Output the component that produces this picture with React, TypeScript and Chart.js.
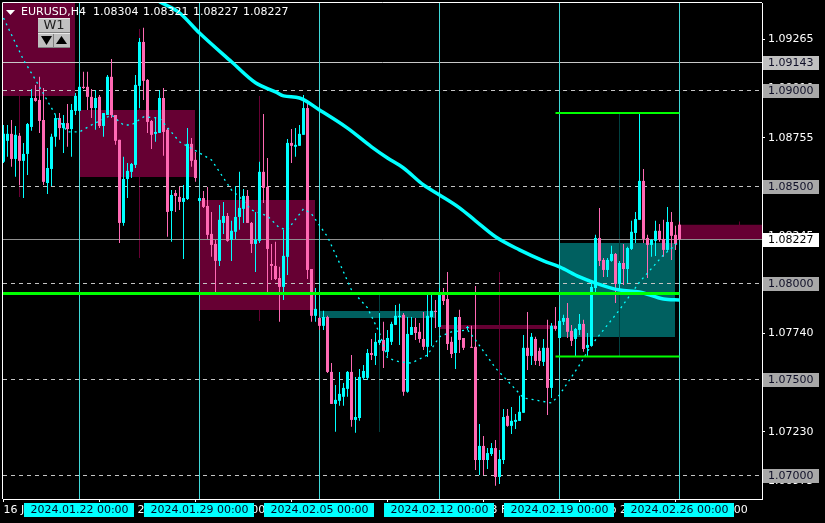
import { useEffect, useRef } from "react";
import { Chart, registerables } from "chart.js";

Chart.register(...registerables);

// Prices are kept in points (1 point = 0.00001)
const opens = [108630,108739,108775,108645,108765,108635,108671,108811,108961,108951,108847,108520,108593,108760,108857,108805,108831,108800,108894,108894,109019,109019,108967,108909,108967,108816,108873,109071,108873,108744,108313,108541,108578,108614,109024,109252,109055,108842,108775,108780,108961,108796,108375,108468,108448,108422,108437,108723,108640,108427,108442,108401,108256,108204,108116,108313,108349,108225,108267,108344,108386,108453,108313,108204,108220,108578,108500,108100,108090,108027,107981,108137,108728,108708,108713,108770,108909,108074,107831,107820,107779,107825,107540,107374,107390,107411,107452,107540,107291,107301,107509,107509,107638,107623,107691,107706,107644,107696,107784,107825,107836,107437,107732,107773,107748,107711,107670,107825,107857,107773,107939,107918,107696,107638,107825,107716,107768,107670,107670,107083,107156,107083,107114,107145,106995,107083,107312,107260,107281,107286,107328,107665,107623,107711,107649,107592,107665,107457,107779,107716,107800,107820,107753,107711,107758,107789,107665,107675,107975,108235,108121,108069,108116,108152,107996,108105,108074,108178,108261,108329,108531,108235,108199,108220,108272,108230,108173,108318,108251,108304];
const highs = [108821,108821,108847,108816,108780,108728,108831,109008,109029,109071,109013,108702,108775,108873,108883,108873,108930,108930,108987,109097,109097,109097,109008,109003,108977,108883,109081,109164,108873,108744,108656,108624,108624,109081,109273,109325,109060,108847,108863,109003,109013,108805,108484,108484,108500,108510,108805,108754,108681,108458,108479,108500,108370,108225,108406,108422,108364,108324,108505,108578,108489,108484,108318,108370,108630,108878,108650,108204,108215,108085,108277,108749,108800,108805,108821,108977,108951,108074,107975,107825,107857,107831,107586,107472,107540,107482,107545,107628,107514,107555,107576,107659,107711,107742,107846,107800,107758,107800,107887,107893,107846,107825,107825,107820,107794,107851,107939,107939,107913,107975,107975,108059,107722,107825,107862,107716,107778,107779,107986,107270,107208,107145,107171,107187,107135,107348,107348,107358,107322,107416,107732,107851,107742,107722,107665,107711,107810,107794,107877,107877,107836,107898,107784,107768,107841,107810,107742,108006,108251,108391,108131,108131,108194,108157,108116,108204,108189,108324,108370,108883,108593,108251,108230,108324,108308,108329,108396,108370,108298,108321];
const lows = [108624,108656,108604,108552,108510,108442,108562,108791,108941,108780,108510,108463,108505,108708,108744,108676,108708,108656,108873,108889,109008,108899,108857,108796,108805,108760,108873,108857,108718,108209,108298,108442,108546,108598,108909,108951,108780,108697,108734,108780,108661,108241,108215,108370,108380,108126,108432,108604,108526,108417,108391,108230,108137,107955,108090,108256,108215,108116,108230,108277,108313,108313,108157,108059,108209,108416,107955,108017,108017,107800,107913,108043,108624,108656,108713,108770,108022,107800,107800,107758,107758,107535,107374,107229,107364,107364,107411,107255,107224,107286,107498,107498,107602,107576,107680,107560,107623,107680,107784,107680,107416,107432,107732,107706,107691,107654,107618,107675,107768,107773,107887,107654,107612,107555,107638,107654,107758,107665,107031,107005,107005,107036,107104,106949,106959,107062,107255,107218,107244,107286,107328,107550,107576,107576,107571,107571,107317,107405,107753,107716,107784,107716,107675,107623,107732,107644,107618,107670,107939,108090,108033,108033,108111,107898,107965,107991,108001,108173,108209,108329,108209,108027,108137,108142,108215,108137,108168,108121,108173,108227];
const closes = [108775,108775,108645,108770,108635,108671,108826,108961,108946,108842,108526,108598,108760,108857,108805,108831,108800,108899,108972,109019,109013,108967,108909,108961,108816,108883,109071,108873,108739,108313,108541,108583,108619,109029,109252,109050,108837,108770,108785,108961,108785,108370,108458,108453,108422,108442,108723,108635,108546,108442,108396,108251,108199,108116,108329,108349,108220,108272,108344,108391,108453,108313,108204,108225,108578,108495,108178,108090,108022,107981,108142,108728,108713,108718,108775,108909,108069,107831,107867,107779,107825,107540,107374,107395,107426,107457,107540,107291,107306,107514,107545,107638,107628,107696,107706,107649,107716,107789,107831,107831,107437,107737,107773,107742,107711,107670,107831,107857,107851,107944,107908,107685,107633,107825,107706,107665,107768,107665,107083,107156,107083,107119,107145,106995,107088,107306,107260,107286,107291,107333,107665,107623,107722,107597,107597,107665,107457,107779,107763,107805,107820,107748,107701,107763,107789,107659,107680,107981,108235,108116,108069,108121,108152,107996,108105,108074,108183,108267,108333,108531,108230,108199,108225,108272,108225,108173,108318,108246,108204,108227];

// Weekly candles overlaid behind the H4 bars
const weekBodyAt = [3.375, 33.375, 63.375, 93.375, 123.375, 153.375, 183.375];
const weekWickAt = [4, 34, 64, 94, 124, 154, 184];
const weekOpen = [109625, 108899, 108432, 107820, 107783, 107721, 108304];
const weekClose = [108971, 108551, 107861, 107856, 107763, 108209, 108227];
const weekHigh = [109700, 109319, 108971, 107939, 108058, 108883, 108321];
const weekLow = [108447, 108131, 107804, 107228, 106969, 107623, 108227];

// Moving averages: bar index and value
const slowMaAt = [39,44,49,57,63,68,70,74,79,86,92,96,100,105,109,114,118,123,129,135,139,144,148,154,159,165,169];
const slowMa = [109460,109403,109298,109149,109040,108993,108972,108961,108899,108805,108708,108650,108598,108510,108458,108391,108324,108241,108173,108116,108085,108033,108001,107965,107955,107918,107913];
const fastMaAt = [0,5,8,13,16,19,22,27,30,32,35,39,44,49,52,57,59,62,66,69,71,75,77,81,84,87,91,94,96,99,102,106,109,112,116,118,123,127,130,137,139,144,147,149,154,159,165,168,169];
const fastMa = [109376,109159,109055,108873,108785,108785,108821,108873,108821,108821,108863,108857,108734,108676,108640,108484,108448,108380,108349,108287,108277,108386,108360,108241,108105,107965,107872,107742,107612,107592,107586,107628,107722,107748,107758,107706,107560,107472,107405,107379,107421,107576,107680,107732,107862,108006,108147,108199,108220];

const weekStarts = [19, 49, 79, 109, 139, 169];
const weekStartLabels = ["2024.01.22 00:00","2024.01.29 00:00","2024.02.05 00:00","2024.02.12 00:00","2024.02.19 00:00","2024.02.26 00:00"];

const axisTickAt = [0, 24, 48, 72, 96, 120, 144, 168];
const axisTickLabels = ["16 Jan 20:00","22 Jan 20:00","26 Jan 20:00","1 Feb 20:00","7 Feb 20:00","13 Feb 20:00","19 Feb 20:00","23 Feb 20:00"];
const priceTicks = [1.09265,1.0901,1.08755,1.085,1.08245,1.0799,1.0774,1.07485,1.0723,1.06975];

const dashedLevels = [1.09, 1.085, 1.08, 1.075, 1.07];
const solidLevels = [1.09143, 1.08227];
const levelTagText = ["1.09143","1.09000","1.08500","1.08227","1.08000","1.07500","1.07000"];
const titleSymbol = "EURUSD,H4";
const titleOhlc = ["1.08304","1.08321","1.08227","1.08227"];

const keyLevel = 1.07947;
const rangeHigh = 1.08883;
const rangeLow = 1.0762;

const X_MIN = -0.125;
const X_MAX = 189.625;
const Y_MIN = 1.0688067;
const Y_MAX = 1.0945396;
const FONT = "11px 'DejaVu Sans'";
const BULL = "#00FFFF";
const BEAR = "#FF69B4";
const WEEK_BEAR = "#660033";
const WEEK_BULL = "#006060";
const LIME = "#00FF00";
const SEP = "#40D8D8";

const p = (v: number) => v / 100000;

const overlay = {
  id: "overlay",
  afterDatasetDraw(chart: any, args: any) {
    if (chart.data.datasets[args.index].label !== "weekWicks") return;
    const { ctx, chartArea: a, scales } = chart;
    ctx.save();
    ctx.lineWidth = 1;
    const y = (v: number) => Math.floor(scales.y.getPixelForValue(v)) + 0.5;
    ctx.strokeStyle = "#C4C4C4";
    ctx.setLineDash([4, 4]);
    for (const v of dashedLevels) {
      ctx.beginPath();
      ctx.moveTo(a.left, y(v));
      ctx.lineTo(a.right, y(v));
      ctx.stroke();
    }
    ctx.setLineDash([]);
    solidLevels.forEach((v, i) => {
      ctx.strokeStyle = i === 0 ? "#C8C8C8" : "#909090";
      ctx.beginPath();
      ctx.moveTo(a.left, y(v));
      ctx.lineTo(a.right, y(v));
      ctx.stroke();
    });
    ctx.restore();
  },
  afterDraw(chart: any) {
    const { ctx, chartArea: a, scales } = chart;
    ctx.save();
    // frame
    ctx.strokeStyle = "#FFFFFF";
    ctx.lineWidth = 1;
    ctx.beginPath();
    ctx.moveTo(a.left - 0.5, a.bottom);
    ctx.lineTo(a.left - 0.5, a.top - 0.5);
    ctx.lineTo(a.right, a.top - 0.5);
    ctx.stroke();

    ctx.font = FONT;
    ctx.textBaseline = "middle";

    // price tags
    levelTagText.forEach((t) => {
      const v = parseFloat(t);
      const cy = Math.floor(scales.y.getPixelForValue(v));
      const isLast = t === "1.08227";
      ctx.fillStyle = isLast ? "#FFFFFF" : t === "1.09143" ? "#C0C0C0" : "#A8A8A8";
      ctx.fillRect(763, cy - 6, 56, 14);
      ctx.fillStyle = isLast ? "#000000" : "#101028";
      ctx.textAlign = "left";
      ctx.fillText(t, 768, cy + 1);
    });

    // week start tags
    weekStarts.forEach((i, k) => {
      const cx = scales.x.getPixelForValue(i);
      ctx.fillStyle = BULL;
      ctx.fillRect(cx - 55.5, 503, 110, 14);
      ctx.fillStyle = "#000020";
      ctx.textAlign = "center";
      ctx.fillText(weekStartLabels[k], cx, 510.5);
    });

    // title
    ctx.textAlign = "left";
    ctx.fillStyle = "#FFFFFF";
    ctx.beginPath();
    ctx.moveTo(6, 10);
    ctx.lineTo(15, 10);
    ctx.lineTo(10.5, 15);
    ctx.closePath();
    ctx.fill();
    ctx.fillText(titleSymbol, 21, 12.5);
    titleOhlc.forEach((t, i) => ctx.fillText(t, 93 + 50 * i, 12.5));

    // W1 buttons
    ctx.fillStyle = "#C0C0C0";
    ctx.fillRect(38, 18, 32, 30);
    ctx.fillStyle = "#E8E8E8";
    ctx.fillRect(38, 18, 32, 1);
    ctx.fillRect(38, 33, 32, 1);
    ctx.fillStyle = "#808080";
    ctx.fillRect(38, 32, 32, 1);
    ctx.fillRect(53, 34, 1, 14);
    ctx.fillRect(38, 47, 32, 1);
    ctx.fillStyle = "#202020";
    ctx.font = "13px 'DejaVu Sans'";
    ctx.textAlign = "center";
    ctx.fillText("W1", 54, 25.5);
    ctx.fillStyle = "#000000";
    ctx.beginPath();
    ctx.moveTo(41, 36);
    ctx.lineTo(52, 36);
    ctx.lineTo(46.5, 45);
    ctx.closePath();
    ctx.moveTo(56, 44);
    ctx.lineTo(67, 44);
    ctx.lineTo(61.5, 36);
    ctx.closePath();
    ctx.fill();
    ctx.restore();
  },
};

export default function App() {
  const ref = useRef<HTMLCanvasElement>(null);
  useEffect(() => {
    const idx = opens.map((_, i) => i);
    const dir = (i: number) => (closes[i] >= opens[i] ? BULL : BEAR);
    const barBase = { type: "bar", grouped: false, borderWidth: 0, inflateAmount: 0 };
    const lineBase = { type: "line", pointRadius: 0, tension: 0, fill: false };
    const hline = (v: number, from: number, to: number) => [{ x: from, y: v }, { x: to, y: v }];
    const chart = new Chart(ref.current as HTMLCanvasElement, {
      type: "bar",
      data: {
        datasets: [
          {
            ...barBase, label: "weekBodies", order: 100, barThickness: 116, minBarLength: 1,
            data: weekBodyAt.map((x, i) => ({ x, y: [p(weekOpen[i]), p(weekClose[i])] })),
            backgroundColor: weekBodyAt.map((_, i) => (weekClose[i] >= weekOpen[i] ? WEEK_BULL : WEEK_BEAR)),
          },
          {
            ...barBase, label: "weekWicks", order: 99, barThickness: 1,
            data: weekWickAt.map((x, i) => ({ x, y: [p(weekLow[i]), p(weekHigh[i])] })),
            backgroundColor: weekWickAt.map((_, i) => (weekClose[i] >= weekOpen[i] ? "#004040" : WEEK_BEAR)),
          },
          {
            ...barBase, label: "weekSeparators", order: 85, barThickness: 1,
            data: weekStarts.map((x) => ({ x, y: [Y_MIN, Y_MAX] })),
            backgroundColor: SEP,
          },
          {
            ...barBase, label: "wicks", order: 60, barThickness: 1,
            data: idx.map((i) => ({ x: i, y: [p(lows[i]), p(highs[i])] })),
            backgroundColor: idx.map(dir),
          },
          {
            ...barBase, label: "bodies", order: 59, barThickness: 3, minBarLength: 1,
            data: idx.map((i) => ({ x: i, y: [p(opens[i]), p(closes[i])] })),
            backgroundColor: idx.map(dir),
          },
          {
            ...lineBase, label: "slowMa", order: 50, borderColor: BULL, borderWidth: 3.5,
            cubicInterpolationMode: "monotone",
            data: slowMaAt.map((x, i) => ({ x, y: p(slowMa[i]) })),
          },
          {
            ...lineBase, label: "fastMa", order: 45, borderColor: "#00FFFF", borderWidth: 1.3, borderDash: [2, 4],
            data: fastMaAt.map((x, i) => ({ x, y: p(fastMa[i]) })),
          },
          { ...lineBase, label: "keyLevel", order: 40, borderColor: LIME, borderWidth: 3, data: hline(keyLevel, X_MIN, 169) },
          { ...lineBase, label: "rangeHigh", order: 40, borderColor: LIME, borderWidth: 2, data: hline(rangeHigh, 138, 169) },
          { ...lineBase, label: "rangeLow", order: 40, borderColor: LIME, borderWidth: 2, data: hline(rangeLow, 138, 169) },
        ] as any,
      },
      options: {
        responsive: false,
        animation: false,
        devicePixelRatio: 1,
        events: [],
        layout: { padding: { left: 3, top: 3, right: 0, bottom: 0 } },
        plugins: { legend: { display: false }, tooltip: { enabled: false }, title: { display: false } },
        scales: {
          x: {
            type: "linear", min: X_MIN, max: X_MAX, offset: false,
            afterBuildTicks: (s: any) => { s.ticks = axisTickAt.map((value) => ({ value })); },
            afterFit: (s: any) => { s.height = 24; s.paddingLeft = s.paddingRight = s.paddingTop = s.paddingBottom = 0; },
            grid: { offset: false, drawOnChartArea: false, drawTicks: true, tickLength: 3, tickColor: "#FFFFFF" },
            border: { display: true, color: "#FFFFFF", width: 1 },
            ticks: {
              color: "#FFFFFF", font: { family: "DejaVu Sans", size: 11 }, autoSkip: false, maxRotation: 0, minRotation: 0,
              align: "start", padding: 2, includeBounds: false,
              callback: (v: any) => axisTickLabels[axisTickAt.indexOf(Number(v))] ?? "",
            },
          },
          y: {
            type: "linear", position: "right", min: Y_MIN, max: Y_MAX,
            afterBuildTicks: (s: any) => { s.ticks = priceTicks.map((value) => ({ value })); },
            afterFit: (s: any) => { s.width = 63; s.paddingLeft = s.paddingRight = s.paddingTop = s.paddingBottom = 0; },
            grid: { drawOnChartArea: false, drawTicks: true, tickLength: 3, tickColor: "#FFFFFF" },
            border: { display: true, color: "#FFFFFF", width: 1 },
            ticks: {
              color: "#FFFFFF", font: { family: "DejaVu Sans", size: 11 }, autoSkip: false, padding: 3, includeBounds: false,
              callback: (v: any) => Number(v).toFixed(5),
            },
          },
        },
      } as any,
      plugins: [overlay],
    } as any);
    return () => chart.destroy();
  }, []);
  return (
    <div style={{ position: "fixed", left: 0, top: 0, width: 825, height: 523, background: "#000" }}>
      <canvas ref={ref} width={825} height={523} style={{ display: "block", width: 825, height: 523 }} />
    </div>
  );
}
